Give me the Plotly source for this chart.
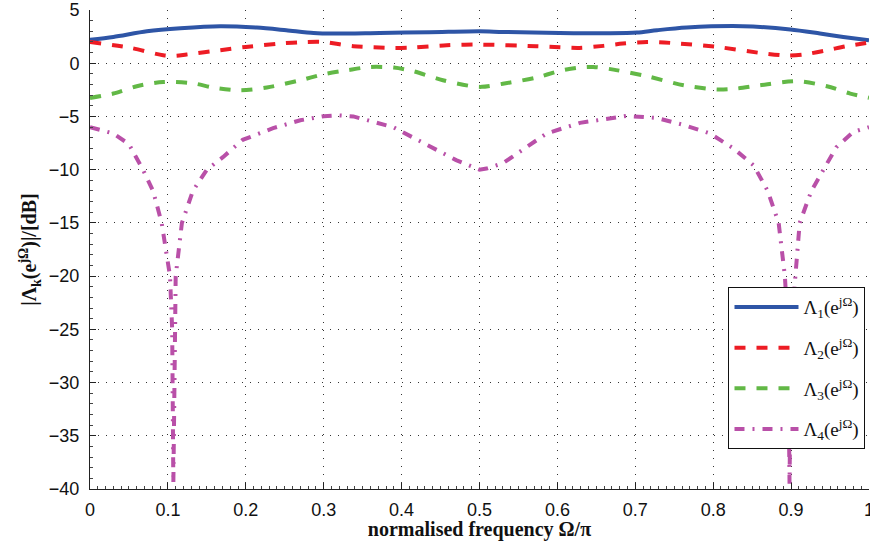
import plotly.graph_objects as go

# Normalised frequency (Omega/pi) and magnitude responses in dB
x1 = [0.0, 0.03, 0.073, 0.116, 0.167, 0.214, 0.252, 0.287, 0.312, 0.372, 0.436, 0.5,
      0.53, 0.603, 0.668, 0.702, 0.728, 0.766, 0.838, 0.899, 0.937, 0.967, 1.0]
lam1 = [2.2, 2.47, 3.0, 3.29, 3.48, 3.35, 3.1, 2.85, 2.79, 2.85, 2.91, 3.0,
        2.94, 2.85, 2.82, 2.88, 3.1, 3.35, 3.48, 3.17, 2.79, 2.47, 2.15]

x2 = [0.0, 0.051, 0.094, 0.11, 0.124, 0.167, 0.2, 0.244, 0.278, 0.3, 0.338, 0.389,
      0.415, 0.458, 0.5, 0.573, 0.603, 0.628, 0.659, 0.684, 0.715, 0.745, 0.805,
      0.86, 0.894, 0.916, 0.946, 0.971, 1.0]
lam2 = [2.0, 1.46, 0.75, 0.7, 0.82, 1.22, 1.53, 1.85, 2.0, 2.0, 1.6, 1.44,
        1.48, 1.69, 1.75, 1.6, 1.5, 1.44, 1.63, 1.85, 2.0, 1.91, 1.53,
        0.97, 0.72, 0.82, 1.22, 1.6, 1.95]

x3 = [0.0, 0.03, 0.06, 0.094, 0.133, 0.158, 0.193, 0.227, 0.27, 0.3, 0.33, 0.36,
      0.39, 0.415, 0.453, 0.49, 0.503, 0.53, 0.573, 0.603, 0.628, 0.646, 0.672,
      0.715, 0.762, 0.805, 0.83, 0.86, 0.908, 0.946, 0.976, 1.0]
lam3 = [-3.26, -2.85, -2.16, -1.76, -1.9, -2.28, -2.54, -2.28, -1.6, -1.03, -0.66, -0.35,
        -0.41, -0.75, -1.6, -2.16, -2.22, -1.93, -1.35, -0.72, -0.4, -0.35, -0.6,
        -1.22, -2.07, -2.47, -2.38, -2.07, -1.69, -2.16, -2.85, -3.24]

x4 = [0.0, 0.03, 0.05, 0.068, 0.081, 0.092, 0.1027, 0.1055, 0.107, 0.1085, 0.11,
      0.118, 0.132, 0.15, 0.171, 0.196, 0.235, 0.27, 0.3, 0.32, 0.338, 0.389, 0.427,
      0.47, 0.5, 0.509, 0.53, 0.586, 0.629, 0.689, 0.727, 0.762, 0.796, 0.826, 0.852,
      0.87, 0.884, 0.892, 0.896, 0.898, 0.9, 0.905, 0.911, 0.926, 0.941, 0.958, 0.98, 1.0]
lam4 = [-6.0, -6.6, -7.6, -10.0, -12.0, -15.0, -20.0, -25.0, -39.5, -25.0, -20.0,
        -15.0, -12.0, -10.0, -8.8, -7.2, -6.1, -5.36, -4.98, -4.9, -5.0, -6.0, -7.5,
        -9.1, -10.0, -9.9, -9.4, -6.6, -5.6, -4.95, -5.14, -5.8, -6.6, -8.0, -9.6,
        -12.0, -15.0, -20.0, -25.0, -39.5, -25.0, -20.0, -15.0, -12.0, -10.0, -7.9, -6.45, -6.0]

names = ["Λ<sub>1</sub>(e<sup>jΩ</sup>)", "Λ<sub>2</sub>(e<sup>jΩ</sup>)",
         "Λ<sub>3</sub>(e<sup>jΩ</sup>)", "Λ<sub>4</sub>(e<sup>jΩ</sup>)"]

x_ticks = [0, 0.1, 0.2, 0.3, 0.4, 0.5, 0.6, 0.7, 0.8, 0.9, 1]
x_ticktext = ["0", "0.1", "0.2", "0.3", "0.4", "0.5", "0.6", "0.7", "0.8", "0.9", "1"]
y_ticks = [5, 0, -5, -10, -15, -20, -25, -30, -35, -40]

fig = go.Figure()
styles = [
    (x1, lam1, "#2E55A6", "solid", "spline"),
    (x2, lam2, "#ED1C24", "11px,11px", "spline"),
    (x3, lam3, "#62B846", "11px,11px", "spline"),
    (x4, lam4, "#B950A8", "10px,8px,2px,8px", "linear"),
]
for i, (xs, ys, col, dash, shape) in enumerate(styles):
    fig.add_trace(go.Scatter(
        x=xs, y=ys, mode="lines", name=names[i], legendgroup=f"g{i}",
        line=dict(color=col, width=4, dash=dash, shape=shape,
                  smoothing=0.8 if shape == "spline" else None),
    ))

axis_common = dict(
    showline=True, linecolor="#222", linewidth=1, mirror=False,
    ticks="inside", ticklen=6, tickcolor="#222", tickwidth=1,
    showgrid=True, gridcolor="#333", gridwidth=1, griddash="1px,7px",
    zeroline=False, ticklabeloverflow="allow", automargin=False,
    tickfont=dict(family="Liberation Sans, Arial", size=18, color="#111"),
)
title_font = dict(family="Liberation Serif, Times New Roman", size=20, color="#111")

fig.update_xaxes(
    range=[0, 1], tickvals=x_ticks, ticktext=x_ticktext, ticklabelstandoff=4,
    minor=dict(ticks="inside", ticklen=3, dtick=0.01, tickcolor="#444", showgrid=False),
    title=dict(text="<b>normalised frequency Ω/π</b>", standoff=2, font=title_font),
    **axis_common,
)
fig.update_yaxes(
    range=[-40, 5], tickvals=y_ticks, ticklabelstandoff=6,
    minor=dict(ticks="inside", ticklen=3, dtick=1, tickcolor="#444", showgrid=False),
    title=dict(text="<b>|Λ<sub>k</sub>(e<sup>jΩ</sup>)|/[dB]</b>", standoff=6, font=title_font),
    **axis_common,
)

fig.update_layout(
    width=870, height=541,
    margin=dict(l=90, r=1, t=10, b=52),
    plot_bgcolor="white", paper_bgcolor="white",
    showlegend=True,
    legend=dict(
        x=0.9955, y=0.4215, xanchor="right", yanchor="top",
        bgcolor="white", bordercolor="#111", borderwidth=1,
        font=dict(family="Liberation Serif, Times New Roman", size=19, color="#111"),
        itemwidth=64, tracegroupgap=13,
    ),
)

fig.write_html("out.html")
